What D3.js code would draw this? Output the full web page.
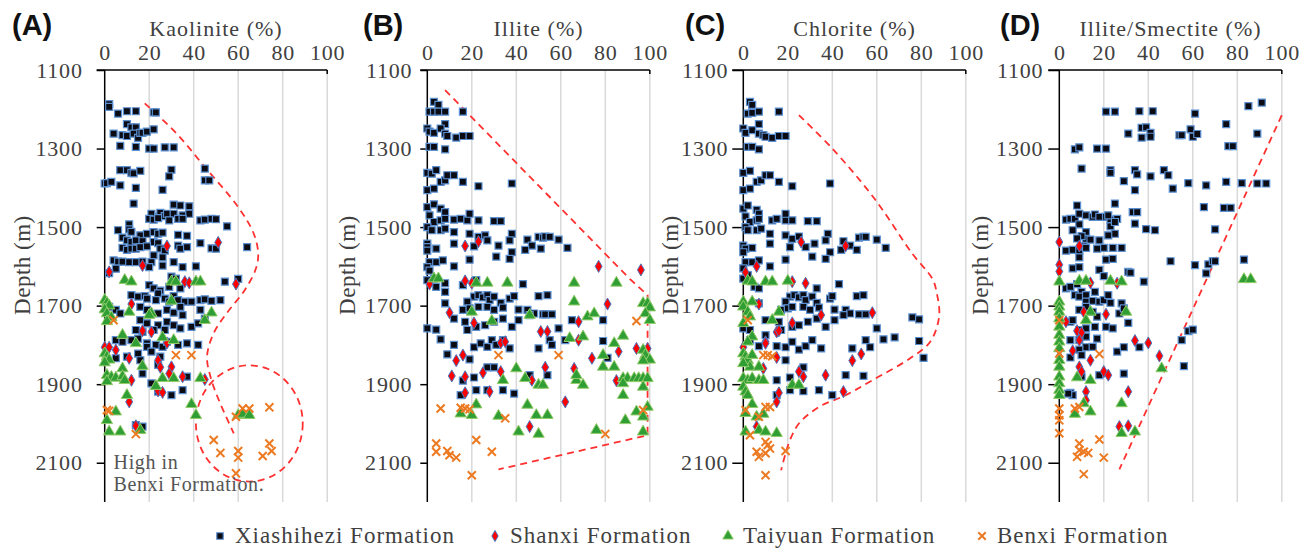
<!DOCTYPE html>
<html>
<head>
<meta charset="utf-8">
<script src="https://cdn.jsdelivr.net/npm/d3@7"></script>
<style>
  body { margin: 0; background: #fff; }
  svg { display: block; }
  svg text { font-family: "Liberation Serif", "DejaVu Serif", "Times New Roman", serif; fill: #404040; }
  svg text.letter { font-family: "Liberation Sans", Arial, sans-serif; font-weight: bold; fill: #111; }
  .grid line { stroke: #d9d9d9; stroke-width: 1.5; }
  .axis-line { stroke: #000; stroke-width: 1.5; }
  .envelope { fill: none; stroke: #ff3030; stroke-width: 1.8; stroke-dasharray: 7 5; }
</style>
</head>
<body>
<svg id="chart" width="1309" height="548"></svg>
<script>
// ---- data: [value %, depth m] ----
const depthTicks = [1100, 1300, 1500, 1700, 1900, 2100];
const pctTicks = [0, 20, 40, 60, 80, 100];
const seriesNames = ['Xiashihezi Formation', 'Shanxi Formation', 'Taiyuan Formation', 'Benxi Formation'];
const panelLetters = ['(A)', '(B)', '(C)', '(D)'];
const panelTitles = ['Kaolinite (%)', 'Illite (%)', 'Chlorite (%)', 'Illite/Smectite (%)'];

// (A) kaolinite
const kaoXia = [[2,1187],[2,1194],[6,1211],[10,1205],[14,1205],[22,1208],[23,1208],[10,1238],[12,1246],[14,1246],[4,1262],[8,1266],[10,1268],[13,1262],[15,1273],[16,1260],[17,1260],[19,1257],[22,1251],[7,1293],[14,1296],[20,1300],[22,1300],[27,1297],[31,1297],[7,1355],[10,1355],[12,1362],[13,1363],[16,1357],[30,1354],[29,1371],[45,1351],[45,1381],[47,1381],[0,1389],[1,1388],[3,1385],[7,1394],[14,1400],[26,1405],[13,1440],[31,1443],[34,1445],[38,1447],[21,1466],[24,1474],[25,1464],[27,1472],[28,1466],[31,1466],[35,1470],[38,1466],[20,1479],[22,1481],[24,1477],[29,1483],[33,1479],[35,1479],[43,1483],[45,1481],[48,1479],[50,1480],[55,1498],[11,1493],[11,1506],[6,1508],[12,1512],[16,1521],[19,1517],[22,1513],[24,1517],[26,1514],[33,1520],[37,1522],[8,1527],[10,1534],[12,1538],[14,1534],[17,1536],[22,1538],[24,1541],[8,1553],[10,1558],[12,1555],[14,1555],[16,1551],[19,1549],[25,1555],[27,1560],[33,1547],[34,1555],[37,1551],[43,1541],[48,1554],[50,1555],[64,1551],[22,1572],[26,1577],[21,1589],[20,1602],[26,1598],[31,1589],[35,1602],[41,1600],[4,1585],[6,1588],[8,1588],[11,1589],[14,1589],[5,1606],[2,1617],[17,1588],[30,1626],[32,1631],[54,1639],[60,1632],[20,1648],[22,1656],[25,1662],[29,1652],[34,1656],[24,1669],[12,1673],[15,1677],[18,1676],[19,1682],[23,1686],[27,1682],[29,1690],[31,1676],[33,1686],[36,1690],[39,1690],[43,1686],[45,1684],[48,1688],[52,1686],[2,1703],[5,1711],[7,1720],[16,1703],[19,1711],[24,1720],[28,1711],[31,1718],[34,1703],[35,1724],[43,1711],[45,1733],[16,1737],[19,1745],[24,1750],[28,1741],[31,1750],[34,1758],[39,1754],[42,1745],[22,1762],[27,1762],[17,1767],[14,1762],[5,1788],[8,1792],[12,1788],[15,1784],[19,1796],[23,1800],[26,1805],[28,1792],[33,1800],[37,1796],[42,1800],[5,1834],[10,1830],[15,1822],[16,1839],[19,1805],[21,1817],[25,1830],[17,1873],[21,1898],[24,1919],[30,1928],[35,1915],[37,1881],[24,1851],[14,2004],[17,2008]];
const kaoShanxi = [[28,1548],[51,1539],[17,1598],[2,1614],[36,1639],[38,1642],[59,1645],[12,1696],[17,1764],[21,1767],[28,1795],[0,1806],[2,1806],[5,1813],[11,1834],[24,1839],[25,1857],[30,1856],[29,1873],[35,1881],[45,1888],[12,1890],[24,1917],[26,1921],[11,1945],[14,2006]];
const kaoTaiyuan = [[9,1635],[12,1639],[30,1639],[32,1639],[41,1639],[43,1639],[0,1686],[1,1693],[2,1700],[0,1710],[1,1720],[3,1730],[1,1740],[11,1716],[21,1720],[20,1724],[30,1688],[45,1737],[48,1718],[8,1775],[14,1796],[26,1781],[31,1788],[0,1822],[1,1830],[2,1838],[0,1845],[8,1860],[17,1854],[26,1885],[31,1885],[1,1877],[3,1882],[5,1884],[8,1880],[9,1890],[1,1893],[23,1905],[10,1928],[39,1951],[43,1885],[41,1979],[1,1992],[5,1970],[2,2021],[7,2021],[16,2017],[60,1979],[62,1976],[65,1979]];
const kaoBenxi = [[4,1737],[32,1826],[39,1826],[1,1966],[2,1968],[14,2027],[59,1983],[62,1962],[65,1962],[74,1959],[49,2042],[52,2075],[60,2070],[60,2087],[71,2083],[74,2051],[75,2070],[59,2127]];
const kaoEnvelope = [[18,1185],[32,1260],[45,1347],[60,1449],[67,1517],[69,1568],[68,1605],[63,1660],[55,1718],[49,1770],[46,1830],[48,1890],[52,1950],[58,2025]];
const kaoEllipse = [65, 2000, 24, 148]; // centre value, centre depth, radius in %, radius in m

// (B) illite
const illXia = [[3,1181],[5,1189],[1,1206],[3,1206],[5,1206],[8,1206],[16,1206],[8,1238],[0,1249],[1,1257],[3,1260],[6,1249],[8,1262],[9,1268],[13,1272],[16,1268],[19,1268],[1,1296],[3,1296],[8,1302],[0,1362],[2,1364],[4,1355],[6,1385],[8,1381],[9,1368],[12,1368],[16,1385],[23,1396],[38,1389],[0,1406],[3,1402],[0,1449],[3,1442],[6,1453],[8,1462],[1,1470],[3,1487],[6,1483],[8,1479],[0,1500],[2,1508],[6,1508],[8,1504],[12,1481],[15,1479],[18,1483],[19,1466],[23,1483],[30,1485],[33,1485],[12,1513],[19,1517],[23,1525],[26,1521],[27,1534],[32,1547],[38,1517],[37,1534],[45,1532],[47,1547],[50,1525],[52,1527],[53,1524],[55,1525],[59,1532],[63,1553],[0,1542],[0,1551],[0,1560],[4,1555],[12,1542],[21,1549],[38,1564],[44,1558],[51,1555],[31,1575],[37,1581],[19,1583],[1,1589],[4,1589],[7,1585],[12,1600],[0,1602],[1,1611],[3,1631],[0,1635],[4,1652],[8,1643],[8,1665],[16,1648],[22,1635],[43,1645],[50,1676],[54,1673],[21,1677],[23,1673],[25,1679],[27,1673],[28,1686],[30,1677],[18,1690],[16,1711],[19,1707],[23,1703],[27,1703],[30,1711],[33,1693],[34,1705],[37,1682],[39,1676],[41,1710],[45,1711],[48,1720],[52,1722],[53,1722],[56,1722],[0,1758],[4,1761],[8,1694],[12,1733],[17,1741],[18,1762],[22,1754],[26,1750],[30,1741],[34,1733],[38,1754],[41,1737],[46,1724],[59,1758],[65,1737],[79,1737],[6,1786],[9,1824],[12,1800],[21,1806],[24,1796],[27,1805],[29,1788],[31,1800],[34,1788],[37,1809],[50,1809],[55,1788],[56,1800],[62,1788],[79,1790],[81,1833],[19,1837],[27,1857],[30,1857],[21,1883],[16,1891],[15,1928],[22,1915],[27,1915],[34,1915],[39,1924],[46,1877],[54,1877]];
const illShanxi = [[17,1548],[23,1537],[77,1600],[96,1609],[1,1645],[17,1637],[20,1643],[10,1718],[21,1744],[33,1795],[35,1792],[51,1766],[54,1766],[68,1788],[68,1741],[81,1696],[86,1817],[94,1809],[99,1809],[74,1834],[66,1860],[53,1857],[47,1890],[13,1840],[16,1826],[11,1879],[17,1881],[25,1871],[33,1868],[28,1919],[17,1922],[62,1945],[85,1891],[46,2008]];
const illTaiyuan = [[3,1631],[5,1631],[22,1642],[27,1642],[36,1642],[66,1642],[85,1642],[20,1716],[29,1739],[46,1724],[66,1690],[72,1728],[75,1720],[70,1779],[64,1783],[84,1796],[88,1777],[79,1826],[79,1856],[84,1856],[97,1694],[99,1694],[100,1705],[98,1720],[100,1737],[97,1813],[98,1826],[100,1838],[97,1840],[88,1885],[90,1885],[93,1885],[95,1885],[97,1885],[99,1885],[88,1898],[97,1907],[88,1928],[40,1860],[34,1890],[44,1885],[50,1902],[52,1902],[67,1890],[70,1902],[67,1877],[45,1953],[49,1979],[54,1979],[32,1981],[22,1952],[15,1975],[20,1979],[41,2021],[50,2027],[76,2017],[89,1992],[94,1970],[97,1983],[97,2021],[99,1958]];
const illBenxi = [[94,1739],[32,1826],[59,1826],[6,1962],[15,1960],[17,1962],[19,1964],[35,1987],[22,2042],[4,2051],[4,2072],[9,2070],[10,2081],[13,2087],[29,2072],[20,2132],[80,2027],[97,1966]];
const illEnvelope = [[8,1151],[91,1632],[99,1673],[99,2030],[32,2117]];

// (C) chlorite
const chlXia = [[3,1181],[4,1189],[2,1211],[4,1209],[7,1206],[16,1206],[7,1238],[0,1249],[1,1260],[4,1253],[7,1262],[9,1266],[10,1270],[13,1273],[16,1268],[19,1268],[2,1296],[4,1296],[7,1302],[0,1362],[3,1357],[6,1385],[8,1381],[10,1368],[12,1368],[16,1385],[22,1396],[39,1389],[0,1406],[3,1402],[0,1453],[2,1445],[6,1456],[7,1466],[1,1473],[3,1487],[6,1483],[7,1479],[1,1500],[2,1508],[6,1508],[8,1504],[13,1483],[15,1479],[19,1483],[19,1466],[22,1483],[29,1485],[33,1485],[12,1517],[19,1521],[22,1530],[25,1524],[21,1551],[32,1542],[38,1517],[37,1534],[45,1536],[48,1547],[52,1527],[54,1525],[55,1525],[60,1532],[64,1553],[0,1547],[1,1555],[0,1564],[4,1553],[12,1542],[28,1551],[39,1564],[44,1558],[51,1558],[31,1575],[37,1581],[19,1583],[1,1589],[4,1589],[7,1585],[12,1600],[0,1605],[2,1622],[0,1631],[5,1652],[7,1656],[33,1656],[43,1645],[51,1676],[54,1673],[21,1677],[23,1673],[25,1679],[27,1673],[28,1686],[31,1677],[19,1690],[17,1711],[20,1707],[22,1703],[27,1703],[30,1711],[33,1693],[34,1705],[39,1682],[40,1676],[41,1710],[46,1711],[48,1720],[52,1722],[55,1722],[0,1758],[3,1762],[7,1694],[10,1737],[16,1741],[17,1762],[22,1754],[25,1750],[29,1741],[33,1733],[37,1754],[41,1737],[45,1724],[60,1758],[68,1781],[76,1730],[79,1735],[3,1788],[7,1803],[10,1775],[15,1803],[19,1806],[22,1792],[25,1812],[28,1803],[31,1788],[35,1809],[49,1809],[55,1788],[57,1806],[63,1786],[79,1790],[81,1833],[19,1839],[27,1857],[21,1883],[15,1890],[15,1928],[21,1915],[27,1918],[34,1915],[40,1928],[46,1877],[54,1879]];
const chlShanxi = [[26,1538],[46,1548],[6,1600],[1,1615],[22,1639],[28,1643],[7,1696],[22,1744],[35,1724],[58,1718],[15,1767],[16,1764],[10,1792],[10,1796],[0,1806],[15,1832],[9,1860],[25,1868],[27,1881],[37,1877],[49,1840],[53,1823],[45,1919],[16,1922],[15,1945],[6,2008]];
const chlTaiyuan = [[2,1637],[4,1639],[10,1639],[13,1639],[20,1637],[0,1690],[0,1703],[2,1716],[4,1690],[3,1728],[0,1745],[16,1716],[13,1737],[4,1779],[2,1792],[0,1822],[1,1830],[2,1839],[4,1826],[3,1856],[7,1856],[0,1847],[0,1885],[2,1890],[4,1885],[7,1890],[9,1890],[0,1907],[1,1919],[2,1928],[22,1902],[25,1902],[4,1951],[1,1974],[6,1983],[9,1976],[1,2021],[7,2017],[10,2021],[15,2025]];
const chlBenxi = [[2,1737],[9,1826],[11,1826],[13,1829],[1,1966],[10,1958],[12,1958],[7,1983],[3,2030],[10,2047],[11,2055],[6,2072],[7,2085],[10,2076],[12,2064],[19,2070],[10,2132]];
const chlEnvelope = [[25,1215],[40,1300],[59,1428],[76,1568],[85,1632],[87,1669],[88,1728],[84,1792],[75,1834],[58,1890],[46,1928],[34,1958],[25,2000],[21,2042],[19,2076],[17,2119]];

// (D) illite/smectite
const isXia = [[91,1183],[85,1192],[21,1206],[25,1206],[36,1205],[42,1205],[61,1211],[75,1238],[37,1247],[39,1246],[31,1262],[37,1272],[41,1260],[41,1270],[54,1266],[55,1266],[59,1251],[60,1270],[62,1263],[89,1262],[7,1302],[9,1297],[17,1300],[21,1300],[76,1294],[78,1294],[10,1351],[23,1355],[23,1362],[29,1383],[34,1355],[35,1366],[41,1371],[47,1355],[49,1368],[51,1402],[58,1388],[66,1394],[75,1385],[82,1388],[89,1389],[93,1389],[34,1406],[25,1440],[8,1445],[33,1462],[35,1462],[65,1449],[74,1451],[77,1451],[3,1481],[5,1479],[7,1479],[9,1466],[12,1470],[15,1474],[16,1468],[18,1474],[21,1474],[23,1481],[26,1479],[22,1470],[9,1493],[6,1508],[12,1513],[12,1530],[14,1532],[10,1523],[8,1529],[3,1560],[6,1558],[9,1560],[11,1549],[12,1553],[20,1553],[24,1553],[28,1553],[17,1555],[9,1577],[23,1498],[25,1487],[25,1517],[22,1521],[18,1534],[21,1583],[24,1581],[34,1491],[39,1505],[43,1508],[70,1506],[50,1587],[61,1597],[67,1595],[69,1587],[70,1587],[83,1583],[6,1605],[9,1602],[18,1609],[20,1625],[31,1614],[32,1616],[38,1639],[66,1618],[3,1656],[5,1652],[8,1645],[10,1665],[7,1673],[9,1677],[12,1673],[12,1690],[15,1688],[16,1665],[18,1690],[20,1686],[22,1673],[23,1693],[9,1711],[12,1703],[15,1716],[17,1728],[5,1741],[6,1737],[9,1762],[12,1758],[16,1754],[21,1754],[24,1758],[28,1694],[27,1720],[29,1707],[31,1744],[12,1779],[17,1784],[9,1788],[5,1788],[12,1806],[15,1805],[9,1812],[5,1832],[10,1826],[26,1817],[29,1806],[36,1806],[18,1877],[10,1881],[29,1873],[5,1922],[6,1928],[4,1924],[55,1788],[58,1765],[60,1761],[56,1854]];
const isShanxi = [[0,1538],[9,1548],[0,1596],[0,1613],[14,1642],[26,1643],[3,1741],[11,1716],[21,1722],[8,1764],[10,1769],[6,1815],[9,1788],[14,1839],[9,1856],[10,1868],[20,1868],[22,1877],[12,1919],[12,1941],[31,1919],[34,1789],[40,1795],[45,1828],[27,2008],[31,2006],[0,1775],[0,1809],[0,1830]];
const isTaiyuan = [[0,1639],[9,1637],[12,1637],[23,1637],[28,1639],[83,1633],[86,1633],[0,1690],[0,1703],[0,1716],[0,1733],[0,1754],[0,1775],[0,1792],[0,1809],[0,1839],[0,1856],[0,1881],[0,1898],[0,1915],[0,1928],[14,1716],[12,1737],[30,1716],[8,1883],[14,1890],[46,1860],[11,1949],[7,1976],[14,1970],[28,1949],[28,2025],[34,2021]];
const isBenxi = [[0,1737],[0,1822],[18,1823],[0,1962],[0,1979],[0,1992],[0,2025],[7,1962],[9,1958],[18,2041],[9,2051],[9,2068],[11,2072],[13,2075],[8,2085],[20,2087],[11,2129]];
const isEnvelope = [[100,1215],[27,2117]];

// ---- layout ----
const panelLeft = [104.7, 427.3, 743.3, 1059.3];
const panelWidth = 222.5;
const letterX = [12, 363, 685, 1000];
const depthLabelX = [30, 355, 678, 988];
const yTickSize = [8, 7, 11, 11];
const yTickPad = [14, 8, 4, 5];
const plotTop = 70, plotBottom = 502;
const serif = '"Liberation Serif", "DejaVu Serif", "Times New Roman", serif';

const panels = [
  {series: [kaoXia, kaoShanxi, kaoTaiyuan, kaoBenxi], envelope: kaoEnvelope, curved: true, ellipse: kaoEllipse},
  {series: [illXia, illShanxi, illTaiyuan, illBenxi], envelope: illEnvelope, curved: false},
  {series: [chlXia, chlShanxi, chlTaiyuan, chlBenxi], envelope: chlEnvelope, curved: true},
  {series: [isXia, isShanxi, isTaiyuan, isBenxi], envelope: isEnvelope, curved: false}
];

const markers = [
  {type: d3.symbolSquare, size: 49, fill: '#0b0b14', stroke: '#5b8fd0', sw: 1.2},
  {type: d3.symbolDiamond, size: 42, fill: '#ff0000', stroke: '#4a78c0', sw: 1},
  {type: d3.symbolTriangle, size: 56, fill: '#2f9e35', stroke: '#93cc6a', sw: 1},
  {type: d3.symbolX, size: 44, fill: 'none', stroke: '#ec7a22', sw: 2}
];

const svg = d3.select('#chart');
const y = d3.scaleLinear().domain([1100, 2200]).range([plotTop, plotBottom]);

function serifText(sel, size, spacing) {
  return sel.style('font-family', serif).style('font-size', size + 'px')
    .style('letter-spacing', (spacing || 0) + 'px').style('fill', '#404040');
}

panels.forEach((p, i) => {
  const x = d3.scaleLinear().domain([0, 100]).range([panelLeft[i], panelLeft[i] + panelWidth]);
  const g = svg.append('g');

  // vertical grid
  g.append('g').attr('class', 'grid')
    .selectAll('line').data(pctTicks.slice(1)).join('line')
      .attr('x1', d => x(d)).attr('x2', d => x(d))
      .attr('y1', plotTop).attr('y2', plotBottom);

  // top x axis
  const xAxis = g.append('g').attr('transform', `translate(0,${plotTop})`)
    .call(d3.axisTop(x).tickValues(pctTicks).tickSize(0).tickPadding(10).tickFormat(d3.format('d')));
  xAxis.attr('font-family', null);
  xAxis.select('.domain').remove();
  serifText(xAxis.selectAll('text'), 22, 0.8);
  g.append('line').attr('class', 'axis-line')
    .attr('x1', x(0) - yTickSize[i]).attr('x2', x(100)).attr('y1', plotTop).attr('y2', plotTop);
  g.append('line').attr('class', 'axis-line')
    .attr('x1', x(100)).attr('x2', x(100)).attr('y1', plotTop).attr('y2', plotTop + 4);

  // left depth axis
  const yAxis = g.append('g').attr('transform', `translate(${x(0)},0)`)
    .call(d3.axisLeft(y).tickValues(depthTicks).tickSize(yTickSize[i]).tickPadding(yTickPad[i]).tickFormat(d3.format('d')));
  yAxis.attr('font-family', null);
  yAxis.select('.domain').remove();
  yAxis.selectAll('line').attr('stroke', '#000').attr('stroke-width', 1.5);
  serifText(yAxis.selectAll('text'), 22, 0.8);
  g.append('line').attr('class', 'axis-line')
    .attr('x1', x(0)).attr('x2', x(0)).attr('y1', plotTop).attr('y2', plotBottom);

  // titles
  serifText(g.append('text').attr('x', x(50)).attr('y', 36).attr('text-anchor', 'middle'), 22, 1)
    .text(panelTitles[i]);
  g.append('text').attr('class', 'letter').attr('x', letterX[i]).attr('y', 35)
    .style('font-size', '29px').text(panelLetters[i]);
  serifText(g.append('text').attr('transform', `translate(${depthLabelX[i]},${y(1500) + 38}) rotate(-90)`)
    .attr('text-anchor', 'middle'), 23, 0.5).text('Depth (m)');

  // envelopes
  const line = d3.line().x(d => x(d[0])).y(d => y(d[1]))
    .curve(p.curved ? d3.curveCatmullRom.alpha(0.5) : d3.curveLinear);
  g.append('path').attr('class', 'envelope').attr('d', line(p.envelope));
  if (p.ellipse) {
    const [cv, cd, rv, rd] = p.ellipse;
    g.append('ellipse').attr('class', 'envelope')
      .attr('cx', x(cv)).attr('cy', y(cd))
      .attr('rx', x(cv + rv) - x(cv)).attr('ry', y(cd + rd) - y(cd));
  }

  // points
  p.series.forEach((data, s) => {
    const m = markers[s];
    const sym = d3.symbol().type(m.type).size(m.size);
    g.append('g').selectAll('path').data(data).join('path')
      .attr('transform', d => `translate(${x(d[0])},${y(d[1])})`)
      .attr('d', sym)
      .attr('fill', m.fill).attr('stroke', m.stroke).attr('stroke-width', m.sw);
  });

  if (i === 0) {
    serifText(g.append('text').attr('x', x(4)).attr('y', y(2100) + 6), 20, 0.6)
      .style('fill', '#555').text('High in');
    serifText(g.append('text').attr('x', x(4)).attr('y', y(2100) + 28), 20, 0.6)
      .style('fill', '#555').text('Benxi Formation.');
  }
});

// legend
const legendX = [220, 495, 728, 982];
const legend = svg.append('g');
seriesNames.forEach((name, s) => {
  const m = markers[s];
  legend.append('path')
    .attr('transform', `translate(${legendX[s]},536)`)
    .attr('d', d3.symbol().type(m.type).size(m.size * 0.85))
    .attr('fill', m.fill).attr('stroke', m.stroke).attr('stroke-width', m.sw);
  serifText(legend.append('text').attr('x', legendX[s] + 15).attr('y', 543), 23, 1).text(name);
});
</script>
</body>
</html>
